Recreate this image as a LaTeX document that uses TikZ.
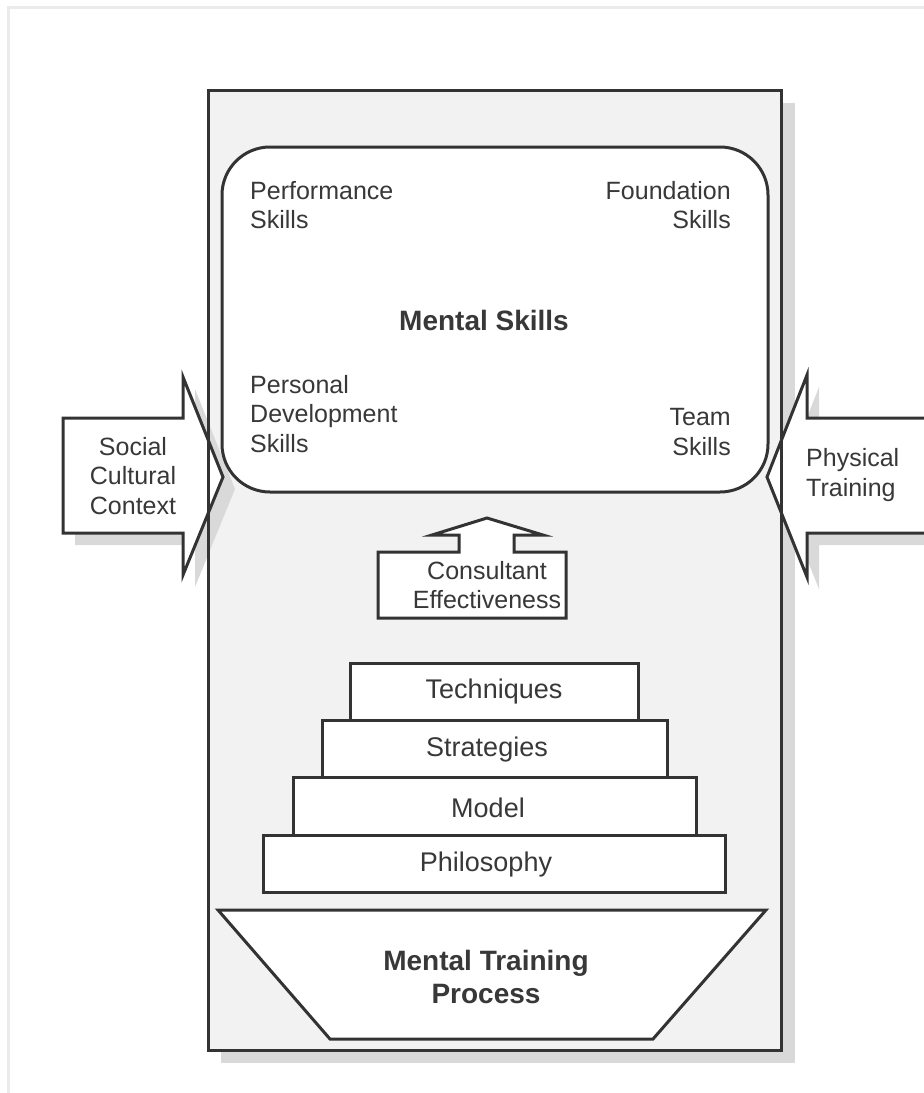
\documentclass[tikz,border=0pt]{standalone}
\usepackage{fontspec}
\setmainfont{Liberation Sans}
\definecolor{linegray}{HTML}{333333}
\definecolor{textgray}{HTML}{383838}
\definecolor{panelgray}{HTML}{F2F2F2}
\definecolor{shadowgray}{HTML}{D9D9D9}
\definecolor{framegray}{HTML}{EBEBEB}
\begin{document}
\begin{tikzpicture}[x=1pt,y=-1pt,
  edge/.style={draw=linegray, line width=3pt, line join=miter},
  lbl/.style={inner sep=0pt, text=textgray, font=\fontsize{25}{29.5}\selectfont},
  steplbl/.style={inner sep=0pt, text=textgray, font=\fontsize{27}{32}\selectfont},
  boldlbl/.style={inner sep=0pt, text=textgray, font=\bfseries\fontsize{28}{33}\selectfont}
]
\useasboundingbox (0,0) rectangle (924,1093);
\fill[white] (0,0) rectangle (924,1093);
% faint outer frame
\draw[framegray, line width=3pt] (8,1093) -- (8,7) -- (924,7);

% main panel with drop shadow
\fill[shadowgray] (221,103) rectangle (795,1063);
\path[edge, fill=panelgray] (208,90) rectangle (781,1050);

% side arrows (shadow first, then body)
\fill[shadowgray, shift={(12,12)}] (63,418) -- (183,418) -- (183,377) -- (223,477) -- (183,575) -- (183,533) -- (63,533) -- cycle;
\path[edge, fill=white] (63,418) -- (183,418) -- (183,377) -- (223,477) -- (183,575) -- (183,533) -- (63,533) -- cycle;
\fill[shadowgray, shift={(12,12)}] (940,418) -- (807,418) -- (807,375) -- (767,477) -- (807,577) -- (807,533) -- (940,533) -- cycle;
\path[edge, fill=white] (940,418) -- (807,418) -- (807,375) -- (767,477) -- (807,577) -- (807,533) -- (940,533) -- cycle;

% panel border drawn over the arrow heads
\draw[edge] (208,90) rectangle (781,1050);

% mental skills box
\path[edge, fill=white, rounded corners=48pt] (222,147) rectangle (768,492);

% consultant effectiveness arrow box
\path[edge, fill=white] (378,552) -- (459,552) -- (459,535) -- (432,535) -- (487,518) -- (543,535) -- (514,535) -- (514,552) -- (566,552) -- (566,618) -- (378,618) -- cycle;

% stacked steps
\path[edge, fill=white] (263,835) rectangle (725,892);
\path[edge, fill=white] (293,777) rectangle (696,835);
\path[edge, fill=white] (322,720) rectangle (667,777);
\path[edge, fill=white] (350,663) rectangle (638,720);

% process trapezoid
\path[edge, fill=white] (218,910) -- (766,910) -- (653,1039) -- (330,1039) -- cycle;

% labels
\node[lbl, anchor=west, align=left] (perf) at (250,205) {Performance\\Skills};
\node[lbl, anchor=east, align=right] (found) at (731,205) {Foundation\\Skills};
\node[boldlbl] (mental) at (484,320) {Mental Skills};
\node[lbl, anchor=west, align=left] (pers) at (250,414) {Personal\\Development\\Skills};
\node[lbl, anchor=east, align=right] (team) at (731,432) {Team\\Skills};
\node[lbl, align=center] (social) at (133,476) {Social\\Cultural\\Context};
\node[lbl, anchor=west, align=left] (phys) at (806,475) {Physical\\Training};
\node[lbl, align=center] (consult) at (487,585) {Consultant\\Effectiveness};
\node[steplbl] (tech) at (494,692) {Techniques};
\node[steplbl] (strat) at (487,750) {Strategies};
\node[steplbl] (model) at (488,808) {Model};
\node[steplbl] (philo) at (486,865) {Philosophy};
\node[boldlbl, align=center] (process) at (486,977) {Mental Training\\Process};
\end{tikzpicture}
\end{document}
